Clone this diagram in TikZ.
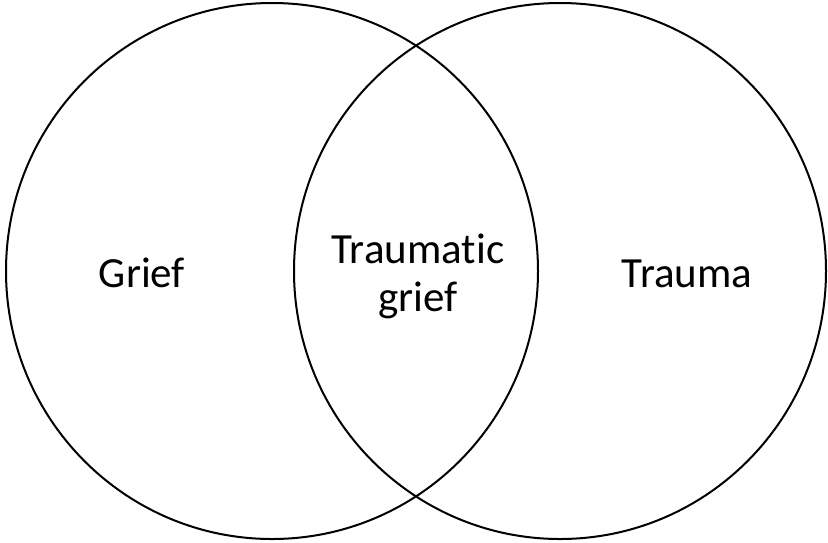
\documentclass[tikz,border=0pt]{standalone}
\usepackage{fontspec}
\setmainfont{Carlito}[Ligatures=NoCommon]
\usepackage{tikz}
\usetikzlibrary{shapes.geometric, positioning}

\begin{document}
\begin{tikzpicture}[
    x=1pt, y=-1pt,
    venn/.style={
        draw, ellipse, line width=2pt, minimum width=532pt, minimum height=536pt,
        inner sep=0pt
    },
    label/.style={
        font=\fontsize{43}{48}\selectfont, align=center, anchor=base, inner sep=0pt
    }
]
\useasboundingbox (0,0) rectangle (828,542);

% Sets
\node[venn] (griefset) at (272, 271) {};
\node[venn] (traumaset) at (560, 271) {};

% Labels
\node[label] (grief) at (142, 287) {Grief};
\node[label] (trauma) at (687, 287) {Trauma};
\node[label] (overlap) at (418, 311) {Traumatic\\grief};

\end{tikzpicture}
\end{document}
